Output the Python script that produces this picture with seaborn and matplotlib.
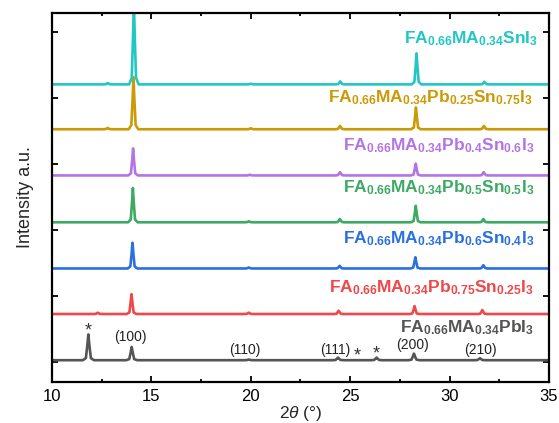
import numpy as np
import pandas as pd
import seaborn as sns
import matplotlib.pyplot as plt
from matplotlib.ticker import MultipleLocator

# peak positions (2theta) and heights (a.u.)
pbi_pos = [11.83, 14.01, 19.9, 24.39, 26.33, 28.21, 31.53]
pbi_h = [0.39, 0.20, 0.01, 0.04, 0.04, 0.10, 0.03]
pb075_pos = [12.3, 14.0, 19.9, 24.42, 28.24, 31.65]
pb075_h = [0.02, 0.30, 0.02, 0.05, 0.12, 0.06]
pb06_pos = [14.05, 19.9, 24.47, 28.28, 31.7]
pb06_h = [0.39, 0.015, 0.04, 0.17, 0.05]
pb05_pos = [14.07, 19.9, 24.48, 28.3, 31.7]
pb05_h = [0.52, 0.015, 0.05, 0.25, 0.05]
pb04_pos = [14.08, 19.95, 24.49, 28.3, 31.72]
pb04_h = [0.41, 0.01, 0.05, 0.18, 0.05]
pb025_pos = [12.8, 14.1, 20.0, 24.49, 28.31, 31.73]
pb025_h = [0.02, 0.79, 0.015, 0.05, 0.33, 0.05]
sn_pos = [12.8, 14.12, 20.0, 24.5, 28.34, 31.75]
sn_h = [0.02, 1.25, 0.01, 0.045, 0.47, 0.04]

offsets = [0.03, 0.73, 1.42, 2.12, 2.83, 3.53, 4.21]
widths = [0.28, 0.24, 0.24, 0.24, 0.24, 0.24, 0.24]
names = ["PbI3", "Pb0.75", "Pb0.6", "Pb0.5", "Pb0.4", "Pb0.25", "SnI3"]
colors = ["#555555", "#F0474A", "#2A70E0", "#3DAA64", "#B574E6", "#CC9A06", "#22C6C6"]
labels = [
    r"$\mathbf{FA_{0.66}MA_{0.34}PbI_3}$",
    r"$\mathbf{FA_{0.66}MA_{0.34}Pb_{0.75}Sn_{0.25}I_3}$",
    r"$\mathbf{FA_{0.66}MA_{0.34}Pb_{0.6}Sn_{0.4}I_3}$",
    r"$\mathbf{FA_{0.66}MA_{0.34}Pb_{0.5}Sn_{0.5}I_3}$",
    r"$\mathbf{FA_{0.66}MA_{0.34}Pb_{0.4}Sn_{0.6}I_3}$",
    r"$\mathbf{FA_{0.66}MA_{0.34}Pb_{0.25}Sn_{0.75}I_3}$",
    r"$\mathbf{FA_{0.66}MA_{0.34}SnI_3}$",
]
label_y = [0.45, 1.06, 1.80, 2.58, 3.21, 3.94, 4.83]
label_x = [34.27, 34.25, 34.25, 34.25, 34.25, 34.2, 34.45]

hkl = ["(100)", "(110)", "(111)", "(200)", "(210)"]
hkl_x = [13.92, 19.71, 24.23, 28.16, 31.53]
hkl_y = [0.38, 0.18, 0.18, 0.26, 0.18]
star_x = [11.83, 25.35, 26.33]
star_y = [0.40, 0.02, 0.05]


def pattern(pos, h, base, w):
    xs, ys = [10.0], [base]
    for p, a in zip(pos, h):
        xs += [p - w, p - 0.45 * w, p - 0.2 * w, p, p + 0.2 * w, p + 0.45 * w, p + w]
        ys += [base, base + 0.08 * a, base + 0.55 * a, base + a, base + 0.55 * a, base + 0.08 * a, base]
    xs.append(35.0)
    ys.append(base)
    return xs, ys


all_pos = [pbi_pos, pb075_pos, pb06_pos, pb05_pos, pb04_pos, pb025_pos, sn_pos]
all_h = [pbi_h, pb075_h, pb06_h, pb05_h, pb04_h, pb025_h, sn_h]
frames = []
for n, pos, h, off, w in zip(names, all_pos, all_h, offsets, widths):
    xs, ys = pattern(pos, h, off, w)
    frames.append(pd.DataFrame({"tt": xs, "inten": ys, "sample": n}))
df = pd.concat(frames, ignore_index=True)

sns.set_style("ticks")
plt.rcParams["font.family"] = ["Liberation Sans", "DejaVu Sans"]
plt.rcParams["mathtext.fontset"] = "custom"
plt.rcParams["mathtext.rm"] = "Liberation Sans"
plt.rcParams["mathtext.bf"] = "Liberation Sans:bold"
plt.rcParams["mathtext.it"] = "Liberation Sans:italic"

fig = plt.figure(figsize=(5.59, 4.23), dpi=100)
ax = fig.add_axes([0.093, 0.097, 0.889, 0.872])
sns.lineplot(data=df, x="tt", y="inten", hue="sample", palette=dict(zip(names, colors)),
             estimator=None, sort=False, legend=False, linewidth=1.9, ax=ax)

for lab, c, lx, ly in zip(labels, colors, label_x, label_y):
    ax.text(lx, ly, lab, color=c, fontsize=12.5, ha="right", va="baseline")
for t, x, y in zip(hkl, hkl_x, hkl_y):
    ax.text(x, y, t, color="#222222", fontsize=10, ha="center", va="center")
for x, y in zip(star_x, star_y):
    ax.text(x, y, "*", color="#333333", fontsize=13, ha="center", va="baseline")

ax.set_xlim(10, 35)
ax.set_ylim(-0.3, 5.29)
ax.xaxis.set_major_locator(MultipleLocator(5))
ax.xaxis.set_minor_locator(MultipleLocator(2.5))
ax.set_yticks(range(6))
ax.set_yticklabels([])
ax.tick_params(axis="both", which="both", direction="in", top=True, right=True,
               width=1.3, labelsize=12, colors="black", pad=5)
ax.tick_params(which="major", length=4)
ax.tick_params(which="minor", length=2.5)
for s in ax.spines.values():
    s.set_linewidth(1.6)
    s.set_color("black")
ax.set_xlabel(r"2$\it{\theta}$ (°)", fontsize=12.5, labelpad=0)
ax.set_ylabel("Intensity a.u.", fontsize=13, labelpad=8)

fig.savefig("out.png", dpi=100)
